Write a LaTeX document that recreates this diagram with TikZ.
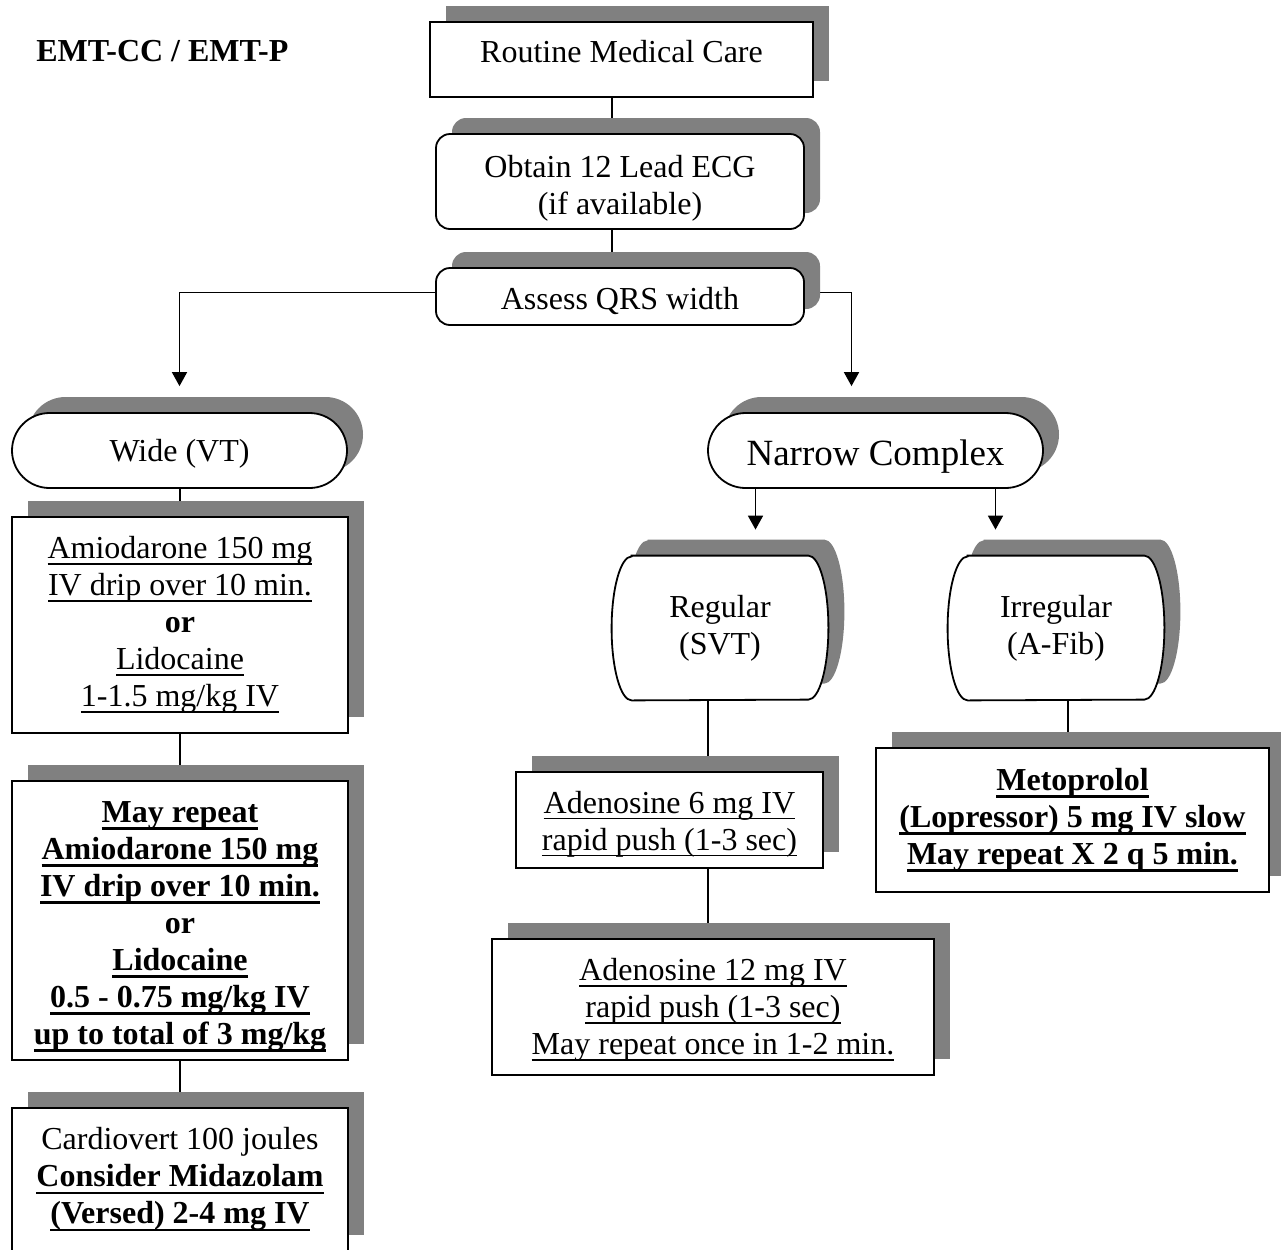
\documentclass[tikz,border=0pt]{standalone}
\usepackage{fontspec}
\setmainfont{Liberation Serif}
\usetikzlibrary{shapes.misc,shadows,arrows.meta,backgrounds}

\newcommand{\und}[1]{\setbox0=\hbox{#1}\rlap{\rule[-3.1pt]{\wd0}{0.7pt}}\box0}
\newcommand{\ulb}[1]{\setbox0=\hbox{\bfseries #1}\rlap{\rule[-3.7pt]{\wd0}{1.4pt}}\box0}
\newcommand{\barrelshape}[1]{%
  \fill[gray] ([xshift=18pt,yshift=8pt]#1.north west) -- ([xshift=-2pt,yshift=8pt]#1.north east)
    arc[start angle=90,end angle=-90,x radius=10pt,y radius=36pt]
    -- ([xshift=18pt,yshift=8pt]#1.south west)
    arc[start angle=270,end angle=90,x radius=10pt,y radius=36pt] -- cycle;
  \draw[line width=0.9pt,fill=white] ([xshift=10pt]#1.north west) -- ([xshift=-10pt]#1.north east)
    arc[start angle=90,end angle=-90,x radius=10pt,y radius=36pt]
    -- ([xshift=10pt]#1.south west)
    arc[start angle=270,end angle=90,x radius=10pt,y radius=36pt] -- cycle;}

\begin{document}
\begin{tikzpicture}[x=0.5pt,y=-0.5pt,
            every node/.style={font=\fontsize{16pt}{18.5pt}\selectfont},
            shadowed/.style={drop shadow={shadow xshift=8pt,shadow yshift=8pt,fill=gray,opacity=1}},
            box/.style={rectangle,draw,line width=0.9pt,fill=white,shadowed,align=center,inner sep=0pt},
            round box/.style={box,rounded corners=7pt},
            pill/.style={rounded rectangle,draw,line width=0.9pt,fill=white,shadowed,
                minimum width=167.5pt,minimum height=37.5pt,inner sep=0pt},
            barrel/.style={rectangle,align=center,minimum width=108pt,minimum height=72pt,inner sep=0pt},
            conn/.style={line width=0.9pt},
            arrow conn/.style={conn,-{Triangle[length=7pt,width=7.5pt]},shorten >=13pt}]
        \useasboundingbox (0,0) rectangle (1281,1249);
                % Define vertices
        \node[anchor=base west,inner sep=0pt,font=\fontsize{16pt}{18.5pt}\selectfont\bfseries] (T) at (36,61) {EMT-CC / EMT-P};
        \node[box,minimum width=191.5pt,minimum height=37.5pt,text height=11pt,text depth=8.5pt] (RMC) at (621.5,59.5) {Routine Medical Care};
        \node[round box,minimum width=184pt,minimum height=47.5pt] (ECG) at (620,181.5) {\rule{0pt}{18pt}Obtain 12 Lead ECG\\(if available)};
        \node[round box,minimum width=184pt,minimum height=28.5pt,text height=16pt,text depth=3.5pt] (QRS) at (620,296.5) {Assess QRS width};
        \node[pill,text height=14pt,text depth=3pt] (W) at (179.5,450.5) {Wide (VT)};
        \node[pill,font=\fontsize{18.5pt}{21pt}\selectfont,text height=18.6pt,text depth=4pt] (N) at (875.5,450.5) {Narrow Complex};
        \node[barrel] (R) at (720,628) {Regular\\(SVT)};
        \node[barrel] (I) at (1056,628) {Irregular\\(A-Fib)};
        \node[box,minimum width=168pt,minimum height=108pt] (A1) at (180,625)
            {\und{Amiodarone 150 mg}\\\und{IV drip over 10 min.}\\\textbf{or}\\\und{Lidocaine}\\\und{1-1.5 mg/kg IV}};
        \node[box,minimum width=168pt,minimum height=139.5pt,font=\fontsize{16pt}{18.5pt}\selectfont\bfseries] (A2) at (180,920.5)
            {\rule{0pt}{17pt}\ulb{May repeat}\\\ulb{Amiodarone 150 mg}\\\ulb{IV drip over 10 min.}\\or\\\ulb{Lidocaine}\\\ulb{0.5 - 0.75 mg/kg IV}\\\ulb{up to total of 3 mg/kg}};
        \node[box,minimum width=168pt,minimum height=71.5pt] (C) at (180,1179.5)
            {Cardiovert 100 joules\\\ulb{Consider Midazolam}\\\ulb{(Versed) 2-4 mg IV}};
        \node[box,minimum width=153.5pt,minimum height=48pt] (S1) at (669.5,820)
            {\rule{0pt}{15pt}\und{Adenosine 6 mg IV}\\\und{rapid push (1-3 sec)}};
        \node[box,minimum width=221pt,minimum height=68pt] (S2) at (713,1007)
            {\rule{0pt}{14pt}\und{Adenosine 12 mg IV}\\\und{rapid push (1-3 sec)}\\\und{May repeat once in 1-2 min.}};
        \node[box,minimum width=196.5pt,minimum height=72pt] (M) at (1072.5,820)
            {\ulb{Metoprolol}\\\ulb{(Lopressor) 5 mg IV slow}\\\ulb{May repeat X 2 q 5 min.}};
                % Connect vertices
        \begin{pgfonlayer}{background}
            \barrelshape{R}
            \barrelshape{I}
            \draw[conn] ([xshift=-4pt]ECG.north) -- ([xshift=-4pt]ECG.north |- RMC.south);
            \draw[conn] ([xshift=-4pt]QRS.north) -- ([xshift=-4pt]QRS.north |- ECG.south);
            \draw[arrow conn] ([yshift=2pt]QRS.west) -| (W.north);
            \draw[arrow conn] ([yshift=2pt]QRS.east) -| ([xshift=-12pt]N.north);
            \draw[arrow conn] ([xshift=-60pt]N.south) -- ([xshift=-60pt]N.south |- R.north);
            \draw[arrow conn] ([xshift=60pt]N.south) -- ([xshift=60pt]N.south |- I.north);
            \draw[conn] (A1.north) -- (A1.north |- W.south);
            \draw[conn] (A1.south) -- (A2.north);
            \draw[conn] (A2.south) -- (C.north);
            \draw[conn] ([xshift=-6pt]R.south) -- ([xshift=-6pt]R.south |- S1.north);
            \draw[conn] ([xshift=-2.5pt]S2.north) -- ([xshift=-2.5pt]S2.north |- S1.south);
            \draw[conn] ([xshift=6pt]I.south) -- ([xshift=6pt]I.south |- M.north);
        \end{pgfonlayer}
        \end{tikzpicture}
\end{document}
